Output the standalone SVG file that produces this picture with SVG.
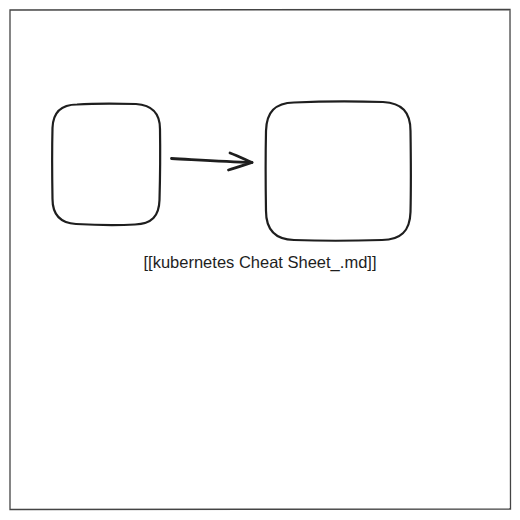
<svg xmlns="http://www.w3.org/2000/svg" width="520" height="520" viewBox="0 0 520 520">
<style>
.frame{fill:none;stroke:#444;stroke-width:1.3}
.node{fill:none;stroke:#1e1e1e;stroke-width:2.2;stroke-linecap:round;stroke-linejoin:round}
.edge{fill:none;stroke:#1e1e1e;stroke-width:2.8;stroke-linecap:round;stroke-linejoin:round}
.label{font-family:"Liberation Sans",Arial,sans-serif;font-size:16.5px;fill:#1e1e1e}
</style>
<rect width="520" height="520" fill="#ffffff"/>
<path class="frame" d="M10 10 L510 9.5 L510.5 509 L10 509.5 Z"/>
<g id="node-left">
<path class="node" d="M77 104.5 C100 103, 118 103.5, 136 104 C152 105, 160 113, 160 129 C160.5 160, 160 182, 159.5 200 C159 216, 152 224, 135 224.5 C110 226, 93 225, 76 224 C60 223, 52.5 215, 52.5 199 C52 170, 52 148, 52.5 128 C53 112, 61 104.5, 77 104.5 Z"/>
</g>
<g id="node-right">
<path class="node" d="M294 102.5 C325 101, 355 101, 383 102 C402 103, 410.5 112, 410.5 131 C411 165, 411 190, 410.5 212 C410 231, 401 240, 382 240 C350 241, 320 241, 294 240 C275 239.5, 266 230, 266 211 C265.5 180, 265.5 155, 266 131 C266.5 112, 275 103, 294 102.5 Z"/>
</g>
<g id="connectors">
<path class="edge" d="M171.5 158.5 C200 160, 225 161.5, 252 162.5"/>
<path class="edge" d="M230 153 C238 156, 245 159.5, 252 162.5 C244 165, 236 168, 228.5 170"/>
</g>
<text class="label" x="260" y="268" text-anchor="middle">[[kubernetes Cheat Sheet_.md]]</text>
</svg>
